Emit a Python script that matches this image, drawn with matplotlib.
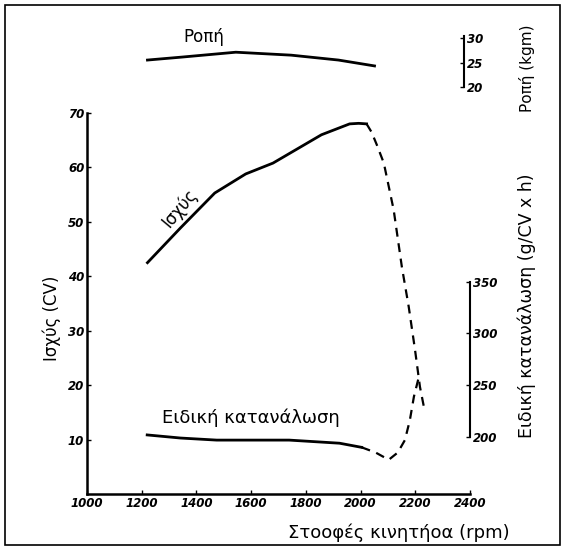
import numpy as np
import matplotlib
matplotlib.use('Agg')
import matplotlib.pyplot as plt
from matplotlib.patches import Rectangle

plt.rcParams['font.family'] = ['DejaVu Sans']

# %%
# Ισχύς (CV) - συνεχής και διακεκομμένη
rpm_power = [1221, 1342, 1467, 1580, 1680, 1857, 1960, 1993, 2022]
power = [42.5, 48.9, 55.3, 58.8, 60.8, 66.0, 68.0, 68.1, 68.0]
rpm_power_d = [2022, 2040, 2059, 2085, 2121, 2151, 2176, 2199, 2217, 2235]
power_d = [68.0, 66.5, 64.2, 60.8, 52.2, 41.7, 34.4, 26.5, 19.7, 15.1]

# Ροπή (kgm)
rpm_torque = [1221, 1346, 1544, 1746, 1919, 2051]
torque = [25.5, 26.1, 27.1, 26.5, 25.5, 24.3]

# Ειδική κατανάλωση (g/CV x h)
rpm_cons = [1220, 1342, 1474, 1739, 1923, 2004]
cons = [202, 199, 197, 197, 194, 190]
rpm_cons_d = [2004, 2055, 2103, 2136, 2162, 2180, 2195, 2213]
cons_d = [190, 185, 178, 185, 197, 216, 239, 258]

x_ticks = [1000, 1200, 1400, 1600, 1800, 2000, 2200, 2400]
p_ticks = [10, 20, 30, 40, 50, 60, 70]
t_ticks = [20, 25, 30]
c_ticks = [200, 250, 300, 350]

# %%
W, H = 568, 555
fig = plt.figure(figsize=(W / 100, H / 100), dpi=100)


def box(x0, y0, x1, y1):
    # pixel coords (top-left origin) -> figure fraction
    return [x0 / W, 1 - y1 / H, (x1 - x0) / W, (y1 - y0) / H]


def pt(x, y):
    return x / W, 1 - y / H


tick_font = dict(fontsize=8.5, fontstyle='italic', fontweight='bold')
lw = 2.0

ax = fig.add_axes(box(87, 113, 470, 494))
ax.plot(rpm_power, power, color='black', lw=lw)
ax.plot(rpm_power_d, power_d, color='black', lw=1.6, ls=(0, (4, 3)))
ax.set_xlim(1000, 2400)
ax.set_ylim(0, 70)
ax.spines[['top', 'right']].set_visible(False)
ax.spines[['left', 'bottom']].set_linewidth(1.8)
ax.set_xticks(x_ticks)
ax.set_xticklabels([str(v) for v in x_ticks], **tick_font)
ax.set_yticks(p_ticks)
ax.set_yticklabels([str(v) for v in p_ticks], **tick_font)
ax.tick_params(direction='in', length=3, width=1, pad=2)
ax.patch.set_alpha(0)

# Ειδική κατανάλωση στον δεξιό άξονα
c_lo = 200 - (494 - 437) / 1.035
c_hi = 200 + (437 - 113) / 1.035
axc = ax.twinx()
axc.plot(rpm_cons, cons, color='black', lw=lw)
axc.plot(rpm_cons_d, cons_d, color='black', lw=1.6, ls=(0, (4, 3)))
axc.set_ylim(c_lo, c_hi)
for s in ['top', 'left', 'bottom']:
    axc.spines[s].set_visible(False)
axc.spines['right'].set_bounds(200, 350)
axc.spines['right'].set_linewidth(1.5)
axc.set_yticks(c_ticks)
axc.set_yticklabels([str(v) for v in c_ticks], **tick_font)
axc.tick_params(direction='in', length=3, width=1, pad=2)

# Ροπή στο πάνω μέρος
t_lo = 20 - (100 - 87) / 4.9
t_hi = 20 + (87 - 20) / 4.9
axt = fig.add_axes(box(87, 20, 470, 100))
axt.plot(rpm_torque, torque, color='black', lw=lw)
axt.set_xlim(1000, 2400)
axt.set_ylim(t_lo, t_hi)
for s in ['top', 'left', 'bottom']:
    axt.spines[s].set_visible(False)
axt.spines['right'].set_position(('axes', 0.985))
axt.spines['right'].set_bounds(20, 30.5)
axt.spines['right'].set_linewidth(1.5)
axt.set_xticks([])
axt.yaxis.tick_right()
axt.set_yticks(t_ticks)
axt.set_yticklabels([str(v) for v in t_ticks], **tick_font)
axt.tick_params(direction='in', length=3, width=1, pad=2)
axt.patch.set_alpha(0)

# κείμενα
fig.text(*pt(204, 37), 'Ροπή', ha='center', va='center', fontsize=12)
fig.text(*pt(180, 208), 'Ισχύς', ha='center', va='center', rotation=50, fontsize=12)
fig.text(*pt(251, 418), 'Ειδική κατανάλωση', ha='center', va='center', fontsize=13)
fig.text(*pt(52, 318), 'Ισχύς (CV)', ha='center', va='center', rotation=90, fontsize=12)
fig.text(*pt(527, 306), 'Ειδική κατανάλωση (g/CV x h)', ha='center', va='center',
         rotation=90, fontsize=12.5)
fig.text(*pt(527, 68), 'Ροπή (kgm)', ha='center', va='center', rotation=90, fontsize=11)
fig.text(*pt(399, 533), 'Στοοφές κινητήοα (rpm)', ha='center', va='center', fontsize=13)

# πλαίσιο
b = box(5, 5, 560, 545)
fig.patches.append(Rectangle(b[:2], b[2], b[3], transform=fig.transFigure,
                             fill=False, edgecolor='black', lw=1.2))

fig.savefig('out.png', dpi=100)
